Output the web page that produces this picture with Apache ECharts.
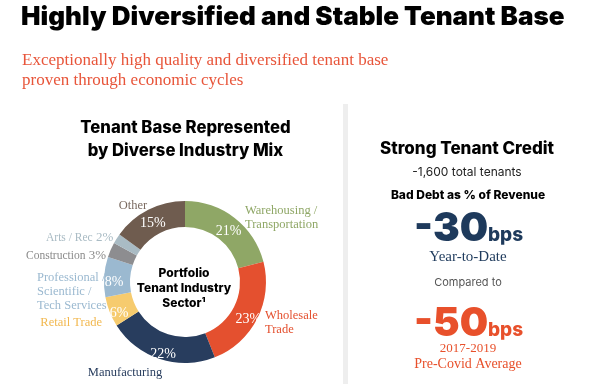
<!DOCTYPE html>
<html><head><meta charset="utf-8">
<script src="https://cdn.jsdelivr.net/npm/echarts@6/dist/echarts.min.js"></script>
<style>html,body{margin:0;padding:0;background:#fff}#c{width:603px;height:385px}</style>
</head><body><div id="c"></div>
<script>
const sectors = ['Warehousing / Transportation','Wholesale Trade','Manufacturing','Retail Trade','Professional / Scientific / Tech Services','Construction','Arts / Rec','Other'];
const shares = [21,23,22,6,8,3,2,15];
const sectorColors = ['#8fa766','#e4502f','#283d5e','#f6cb6e','#9bb9d0','#8d8d90','#a9bbc4','#6f5c4f'];
const labelText = ['Warehousing /\nTransportation','Wholesale\nTrade','Manufacturing','Retail Trade','Professional /\nScientific /\nTech Services','Construction','Arts / Rec','Other'];
const labelColors = ['#8fa766','#e4502f','#283d5e','#f2b84f','#9bb9d0','#8a8a8a','#a9bbc4','#7a6a60'];

const SERIF = '"Liberation Serif", "DejaVu Serif", serif';

const chart = echarts.init(document.getElementById('c'));
const outerPos = [
  {x:245,y:218,align:'left'},
  {x:265,y:323,align:'left'},
  {x:125,y:373,align:'center'},
  {x:102,y:323,align:'right'},
  {x:37,y:292,align:'left'},
  {x:26,y:256,align:'left'},
  {x:46,y:238,align:'left'},
  {x:133,y:206,align:'center'}
];
const data = sectors.map((s,i)=>({name:s, value:shares[i], itemStyle:{color:sectorColors[i]}}));

const richOuter = {
  n:{color:'#8a8a8a',fontFamily:SERIF,fontSize:11.5},
  p:{color:'#8a8a8a',fontFamily:SERIF,fontSize:13},
  a:{color:'#a9bbc4',fontFamily:SERIF,fontSize:11.5},
  q:{color:'#a9bbc4',fontFamily:SERIF,fontSize:13}
};
labelColors.forEach((c,i)=>{ richOuter['t'+i] = {color:c,fontFamily:SERIF,fontSize:12.5,lineHeight:14,align:outerPos[i].align}; });

chart.setOption({
  animation:false,
  graphic:[
    {type:'text', left:21, top:4, style:{text:'Highly Diversified and Stable Tenant Base', font:'900 26px Inter', fill:'#000'}},
    {type:'text', left:22, top:51, style:{text:'Exceptionally high quality and diversified tenant base\nproven through economic cycles', font:'17px '+SERIF, fill:'#e8553a', lineHeight:20}},
    {type:'text', x:185.5, y:116, style:{text:'Tenant Base Represented\nby Diverse Industry Mix', font:'800 16.7px Inter', fill:'#000', align:'center', lineHeight:23}},
    {type:'rect', shape:{x:343,y:104,width:5,height:280}, style:{fill:'#eeeeee'}},
    {type:'text', x:184, y:266, style:{text:'Portfolio\nTenant Industry\nSector¹', font:'800 12px Inter', fill:'#000', align:'center', lineHeight:15}},
    {type:'text', x:467, y:140, style:{text:'Strong Tenant Credit', font:'800 17px Inter', fill:'#000', align:'center'}},
    {type:'text', x:467, y:166, style:{text:'-1,600 total tenants', font:'12px Inter', fill:'#222', align:'center'}},
    {type:'text', x:468, y:189, style:{text:'Bad Debt as % of Revenue', font:'800 12px Inter', fill:'#000', align:'center'}},
    {type:'text', x:414, y:209, style:{text:'-30', font:'900 40px Inter', fill:'#1e3a5c'}},
    {type:'text', x:488, y:226, style:{text:'bps', font:'800 19px Inter', fill:'#1e3a5c'}},
    {type:'text', x:468, y:250, style:{text:'Year-to-Date', font:'15px '+SERIF, fill:'#1e3a5c', align:'center'}},
    {type:'text', x:468, y:277, style:{text:'Compared to', font:'11px Inter', fill:'#555', align:'center'}},
    {type:'text', x:414, y:304, style:{text:'-50', font:'900 40px Inter', fill:'#e8502b'}},
    {type:'text', x:488, y:321, style:{text:'bps', font:'800 19px Inter', fill:'#e8502b'}},
    {type:'text', x:468, y:342, style:{text:'2017-2019', font:'13px '+SERIF, fill:'#e8502b', align:'center'}},
    {type:'text', x:468, y:357, style:{text:'Pre-Covid Average', font:'14px '+SERIF, fill:'#e8502b', align:'center'}}
  ],
  series:[
    {
      type:'pie', center:[185,282], radius:[55,81], startAngle:90, clockwise:true,
      silent:true, data:data,
      label:{show:true, position:'inside', fontFamily:SERIF, fontSize:14, color:'#fff',
        formatter:p=> p.value>=6 ? p.value+'%' : ''},
      labelLine:{show:false},
      labelLayout:()=>({dy:5})
    },
    {
      type:'pie', center:[185,282], radius:[55,81], startAngle:90, clockwise:true,
      silent:true, data:data.map(d=>({name:d.name,value:d.value,itemStyle:{color:'transparent'}})),
      label:{show:true, position:'outside', overflow:'none', width:200,
        formatter:p=>{
          const i=p.dataIndex;
          if(i===5) return '{n|Construction} {p|3%}';
          if(i===6) return '{a|Arts / Rec} {q|2%}';
          return labelText[i].split('\n').map(l=>'{t'+i+'|'+l+'}').join('\n');
        },
        rich:richOuter
      },
      labelLine:{show:false},
      labelLayout:p=>{const o=outerPos[p.dataIndex]; return {x:o.x,y:o.y,align:o.align,verticalAlign:'middle',hideOverlap:false};}
    }
  ]
});
</script></body></html>
